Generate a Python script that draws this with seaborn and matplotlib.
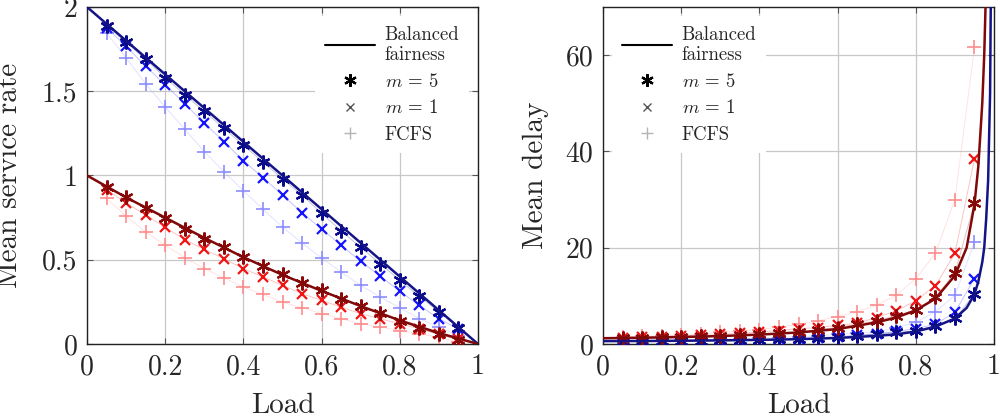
#!/usr/bin/env python3
# -*- coding: utf-8 -*-
"""
Mean service rate / mean delay versus load
"""

import matplotlib
matplotlib.use("Agg")
import matplotlib.pyplot as plt
from matplotlib.lines import Line2D
from matplotlib.ticker import FuncFormatter
import seaborn as sns

# load values of the simulated points
load_pts = [0.05, 0.10, 0.15, 0.20, 0.25, 0.30, 0.35, 0.40, 0.45, 0.50,
            0.55, 0.60, 0.65, 0.70, 0.75, 0.80, 0.85, 0.90, 0.95]

# left panel: mean service rate
bf_blue_load = [0.0, 1.0]
bf_blue_rate = [2.0, 0.0]
bf_red_load = [0.0, 0.1, 0.2, 0.3, 0.4, 0.5, 0.6, 0.7, 0.8, 0.9, 1.0]
bf_red_rate = [1.0, 0.87, 0.75, 0.63, 0.515, 0.41, 0.315, 0.225, 0.14, 0.065, 0.0]

blue_m5_rate = [1.89, 1.79, 1.69, 1.58, 1.48, 1.38, 1.28, 1.18, 1.08, 0.98,
                0.884, 0.775, 0.672, 0.573, 0.477, 0.378, 0.283, 0.19, 0.096]
blue_m1_rate = [1.876, 1.767, 1.648, 1.539, 1.426, 1.311, 1.201, 1.088, 0.987, 0.884,
                0.779, 0.682, 0.586, 0.491, 0.402, 0.313, 0.229, 0.15, 0.09]
blue_fcfs_rate = [1.846, 1.698, 1.545, 1.406, 1.275, 1.142, 1.023, 0.91, 0.799, 0.695,
                  0.6, 0.511, 0.427, 0.348, 0.279, 0.215, 0.15, 0.1, 0.05]
red_m5_rate = [0.933, 0.874, 0.805, 0.745, 0.682, 0.626, 0.573, 0.517, 0.461, 0.414,
               0.362, 0.318, 0.269, 0.223, 0.183, 0.136, 0.096, 0.057, 0.025]
red_m1_rate = [0.915, 0.838, 0.765, 0.692, 0.62, 0.561, 0.507, 0.447, 0.398, 0.348,
               0.299, 0.259, 0.219, 0.18, 0.15, 0.12, 0.09, 0.057, 0.03]
red_fcfs_rate = [0.864, 0.759, 0.665, 0.586, 0.513, 0.448, 0.392, 0.338, 0.295, 0.249,
                 0.215, 0.18, 0.15, 0.12, 0.1, 0.08, 0.06, 0.04, 0.01]

# right panel: mean delay
bf_delay_load = [0.0, 0.1, 0.2, 0.3, 0.4, 0.5, 0.6, 0.7, 0.75, 0.8, 0.85, 0.9,
                 0.93, 0.95, 0.96, 0.97, 0.975, 0.98, 0.985, 0.99, 0.995]
bf_red_delay = [1.2, 1.3, 1.45, 1.65, 1.95, 2.4, 3.1, 4.5, 5.5, 7.0, 9.4, 14.2,
                20, 29, 37, 50, 60, 75, 100, 150, 300]
bf_blue_delay = [0.6, 0.62, 0.67, 0.75, 0.85, 1.0, 1.25, 1.7, 2.0, 2.6, 3.6, 5.3,
                 7.5, 10.3, 13, 17, 20, 26, 34, 52, 105]

red_m5_delay = [1.3, 1.35, 1.4, 1.5, 1.6, 1.7, 1.85, 2.0, 2.2, 2.5,
                3.0, 3.4, 4.1, 4.8, 5.9, 7.1, 9.7, 14.8, 29.2]
red_m1_delay = [1.35, 1.45, 1.55, 1.7, 1.8, 2.0, 2.2, 2.5, 2.8, 3.2,
                3.4, 3.9, 4.3, 5.5, 6.9, 9.0, 12.1, 18.8, 38.4]
red_fcfs_delay = [1.5, 1.6, 1.75, 1.9, 2.1, 2.4, 2.7, 3.0, 3.5, 4.1,
                  4.8, 5.7, 6.7, 8.1, 10.1, 13.6, 18.8, 30.0, 61.6]
blue_m5_delay = [0.55, 0.58, 0.62, 0.66, 0.7, 0.76, 0.82, 0.88, 0.95, 1.0,
                 1.2, 1.4, 1.7, 2.1, 2.4, 2.75, 3.8, 5.3, 10.3]
blue_m1_delay = [0.55, 0.6, 0.64, 0.7, 0.75, 0.82, 0.9, 0.97, 1.05, 1.1,
                 1.3, 1.5, 1.8, 2.1, 2.6, 3.2, 4.1, 6.6, 13.6]
blue_fcfs_delay = [0.6, 0.65, 0.72, 0.8, 0.88, 0.98, 1.1, 1.2, 1.35, 1.5,
                   1.7, 2.0, 2.3, 2.4, 3.4, 4.5, 6.7, 10.1, 21.1]

x_ticks = [0, 0.2, 0.4, 0.6, 0.8, 1]

# colours
BLUE_LINE, BLUE_M5, BLUE_M1, BLUE_FCFS = "#141487", "#0a0a8c", "#1414ff", "#8c8cff"
RED_LINE, RED_M5, RED_M1, RED_FCFS = "#800808", "#8c0a0a", "#f01414", "#ff8c8c"
ASTERISK = (6, 2, 0)

sns.set_style("ticks")
plt.rcParams["font.family"] = ["cmr10", "DejaVu Serif"]
plt.rcParams["mathtext.fontset"] = "cm"
plt.rcParams["axes.formatter.use_mathtext"] = True


def draw_series(ax, y, color, marker, ms, mew):
    """markers joined by a thin faint line"""
    sns.lineplot(x=load_pts, y=y, ax=ax, color=color, lw=0.7,
                 estimator=None, sort=False).lines[-1].set_alpha(0.25)
    ax.plot(load_pts, y, ls="none", marker=marker, ms=ms, mew=mew,
            mec=color, mfc=color, zorder=4)


def draw_panel(ax, series, bf):
    for load, val, color in bf:
        sns.lineplot(x=load, y=val, ax=ax, color=color, lw=1.8,
                     estimator=None, sort=False, zorder=5)
    for y, color, marker, ms, mew in series:
        draw_series(ax, y, color, marker, ms, mew)


def style_axes(ax):
    ax.grid(True, color="#c8c8c8", lw=0.9)
    ax.set_axisbelow(True)
    ax.tick_params(direction="in", top=True, right=True, length=4,
                   width=0.8, labelsize=20, pad=7, color="#555555")
    for s in ax.spines.values():
        s.set_linewidth(1.0)
        s.set_color("#222222")
    ax.set_xlim(0, 1)
    ax.set_xticks(x_ticks)
    fmt = FuncFormatter(lambda v, p: f"{v:g}")
    ax.xaxis.set_major_formatter(fmt)
    ax.yaxis.set_major_formatter(fmt)
    ax.set_xlabel("Load", fontsize=21)
    ax.xaxis.set_label_coords(0.5, -0.145)


def add_legend(ax, loc, anchor):
    handles = [
        Line2D([], [], color="black", lw=1.5),
        Line2D([], [], ls="none", marker=ASTERISK, ms=9, mew=1.6, color="black"),
        Line2D([], [], ls="none", marker="x", ms=6, mew=1.0, color="#555555"),
        Line2D([], [], ls="none", marker="+", ms=8, mew=1.0, color="#b4b4b4"),
    ]
    labels = ["Balanced\nfairness", "$m\\,=\\,5$", "$m\\,=\\,1$", "FCFS"]
    leg = ax.legend(handles, labels, loc=loc, bbox_to_anchor=anchor,
                    fontsize=13.5, frameon=True, framealpha=1, edgecolor="none",
                    facecolor="white", handlelength=2.7, handletextpad=0.5,
                    labelspacing=0.45, borderpad=0.5, fancybox=False)
    leg.set_zorder(10)


fig = plt.figure(figsize=(10.05, 4.19), dpi=100)
ax1 = fig.add_axes([87 / 1005, 75 / 419, 391 / 1005, 337 / 419])
ax2 = fig.add_axes([603 / 1005, 75 / 419, 391 / 1005, 337 / 419])

# left: mean service rate
draw_panel(
    ax1,
    [(blue_fcfs_rate, BLUE_FCFS, "+", 10, 1.2),
     (blue_m1_rate, BLUE_M1, "x", 7.5, 1.6),
     (blue_m5_rate, BLUE_M5, ASTERISK, 10, 1.6),
     (red_fcfs_rate, RED_FCFS, "+", 10, 1.2),
     (red_m1_rate, RED_M1, "x", 7.5, 1.6),
     (red_m5_rate, RED_M5, ASTERISK, 10, 1.6)],
    [(bf_blue_load, bf_blue_rate, BLUE_LINE),
     (bf_red_load, bf_red_rate, RED_LINE)],
)
style_axes(ax1)
ax1.set_ylim(0, 2)
ax1.set_yticks([0, 0.5, 1, 1.5, 2])
ax1.set_ylabel("Mean service rate", fontsize=21)
ax1.yaxis.set_label_coords(-0.163, 0.5)
add_legend(ax1, "upper right", (1.0, 1.0))

# right: mean delay
draw_panel(
    ax2,
    [(blue_fcfs_delay, BLUE_FCFS, "+", 10, 1.2),
     (blue_m1_delay, BLUE_M1, "x", 7.5, 1.6),
     (blue_m5_delay, BLUE_M5, ASTERISK, 10, 1.6),
     (red_fcfs_delay, RED_FCFS, "+", 10, 1.2),
     (red_m1_delay, RED_M1, "x", 7.5, 1.6),
     (red_m5_delay, RED_M5, ASTERISK, 10, 1.6)],
    [(bf_delay_load, bf_blue_delay, BLUE_LINE),
     (bf_delay_load, bf_red_delay, RED_LINE)],
)
style_axes(ax2)
ax2.set_ylim(0, 70)
ax2.set_yticks([0, 20, 40, 60])
ax2.set_ylabel("Mean delay", fontsize=21)
ax2.yaxis.set_label_coords(-0.138, 0.5)
add_legend(ax2, "upper left", (0.0, 1.0))

fig.savefig("out.png", dpi=100)
plt.close(fig)
